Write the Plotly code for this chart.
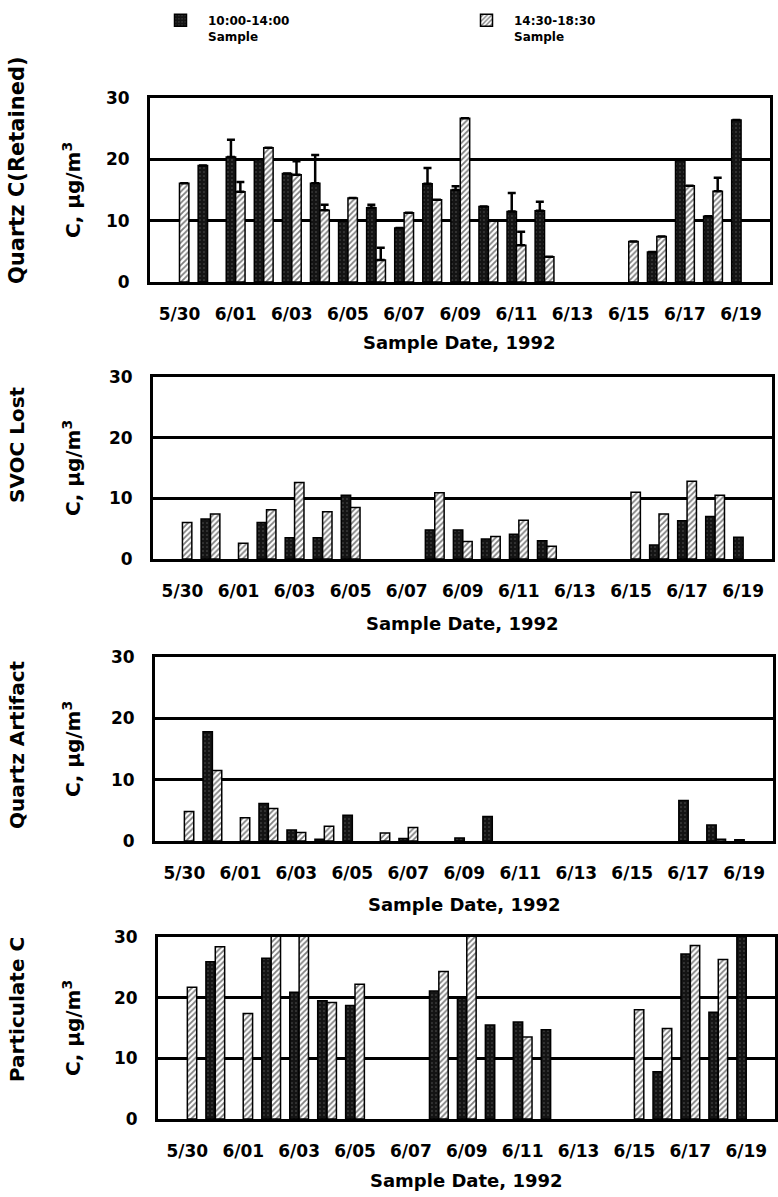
import plotly.graph_objects as go
from plotly.subplots import make_subplots

# ---------------- data ----------------
dates = ["5/30", "5/31", "6/01", "6/02", "6/03", "6/04", "6/05", "6/06", "6/07", "6/08",
         "6/09", "6/10", "6/11", "6/12", "6/13", "6/14", "6/15", "6/16", "6/17", "6/18", "6/19"]
tick_dates = ["5/30", "6/01", "6/03", "6/05", "6/07", "6/09", "6/11", "6/13", "6/15", "6/17", "6/19"]

series_names = ["10:00-14:00<br>Sample", "14:30-18:30<br>Sample"]

# Quartz C (Retained)
retained_am = [None, 19.0, 20.4, 20.0, 17.7, 16.1, 10.0, 12.1, 8.8, 16.0, 15.0, 12.3, 11.5, 11.6,
               None, None, None, 4.9, 19.9, 10.7, 26.4]
retained_am_err = [0, 0, 2.8, 0, 0, 4.6, 0, 0.5, 0, 2.6, 0.6, 0, 3.0, 1.5,
                   0, 0, 0, 0, 0, 0, 0]
retained_pm = [16.1, None, 14.7, 21.9, 17.5, 11.7, 13.7, 3.6, 11.3, 13.4, 26.7, 10.0, 6.0, 4.1,
               None, None, 6.6, 7.4, 15.7, 14.8, None]
retained_pm_err = [0, 0, 1.6, 0, 2.2, 0.9, 0, 2.0, 0, 0, 0, 0, 2.2, 0,
                   0, 0, 0, 0, 0, 2.2, 0]

# SVOC Lost
svoc_am = [None, 6.6, None, 6.0, 3.5, 3.5, 10.5, None, None, 4.8, 4.8, 3.3, 4.1, 3.0,
           None, None, None, 2.3, 6.3, 7.0, 3.6]
svoc_pm = [6.0, 7.4, 2.6, 8.1, 12.6, 7.8, 8.5, None, None, 10.9, 2.9, 3.7, 6.4, 2.1,
           None, None, 11.0, 7.4, 12.8, 10.5, None]

# Quartz Artifact
artifact_am = [None, 17.8, None, 6.1, 1.8, 0.3, 4.2, None, 0.4, None, 0.5, 4.0, None, None,
               None, None, None, None, 6.6, 2.6, 0.2]
artifact_pm = [4.8, 11.5, 3.8, 5.3, 1.4, 2.4, None, 1.3, 2.2, None, None, None, None, None,
               None, None, None, None, None, 0.3, None]

# Particulate C
partic_am = [None, 25.9, None, 26.5, 20.9, 19.5, 18.7, None, None, 21.1, 19.9, 15.5, 16.0, 14.7,
             None, None, None, 7.8, 27.2, 17.6, 30.5]
partic_pm = [21.7, 28.4, 17.4, 30.5, 30.5, 19.2, 22.2, None, None, 24.3, 30.5, None, 13.5, None,
             None, None, 18.0, 14.9, 28.6, 26.3, None]

panel_titles = ["Quartz C(Retained)", "SVOC Lost", "Quartz Artifact", "Particulate C"]
unit_label = "C, µg/m<sup>3</sup>"
x_title = "Sample Date, 1992"
y_ticks = [0, 10, 20, 30]

panels = [
    (retained_am, retained_pm, retained_am_err, retained_pm_err),
    (svoc_am, svoc_pm, None, None),
    (artifact_am, artifact_pm, None, None),
    (partic_am, partic_pm, None, None),
]

# ---------------- layout geometry (pixels) ----------------
W, H = 778, 1197
x_px = [(150, 770), (153, 772), (155, 773), (158, 775)]
y_px = [(98, 282), (377, 559), (657, 841), (937, 1119)]
title_y_px = [170, 445, 745, 1010]
title_sizes = [21, 20, 20, 20]
xtitle_y_px = [343, 623, 904, 1180]

FONT = "DejaVu Sans"

fig = make_subplots(rows=4, cols=1)

am_marker = dict(color="#141414", line=dict(color="black", width=1.5),
                 pattern=dict(shape=".", fgcolor="#9a9a9a", size=4, solidity=0.12))
pm_marker = dict(color="white", line=dict(color="black", width=1.5),
                 pattern=dict(shape="/", fgcolor="black", bgcolor="white", size=4, solidity=0.45))


def err(vals):
    if vals is None:
        return None
    return dict(type="data", array=vals, arrayminus=[0] * len(vals), symmetric=False,
                color="black", thickness=2.5, width=4)


for i, (am, pm, am_e, pm_e) in enumerate(panels):
    row = i + 1
    fig.add_trace(go.Bar(x=dates, y=am, name=series_names[0], marker=am_marker,
                         error_y=err(am_e), legend="legend", legendgroup="am",
                         showlegend=(i == 0)),
                  row=row, col=1)
    fig.add_trace(go.Bar(x=dates, y=pm, name=series_names[1], marker=pm_marker,
                         error_y=err(pm_e), legend="legend2", legendgroup="pm",
                         showlegend=(i == 0)),
                  row=row, col=1)

annotations = []
for i in range(4):
    xa = "xaxis" if i == 0 else f"xaxis{i + 1}"
    ya = "yaxis" if i == 0 else f"yaxis{i + 1}"
    x0, x1 = x_px[i]
    yt, yb = y_px[i]
    fig.layout[xa].update(
        domain=[x0 / W, x1 / W],
        type="category", categoryorder="array", categoryarray=dates,
        range=[-1.05, 21.03],
        tickmode="array", tickvals=tick_dates, ticktext=tick_dates,
        showgrid=False, zeroline=False,
        showline=True, linecolor="black", linewidth=3, mirror=True,
        ticks="", ticklabelstandoff=15,
        tickfont=dict(family=FONT, size=17, color="black", weight="bold"),
    )
    fig.layout[ya].update(
        domain=[1 - yb / H, 1 - yt / H],
        range=[0, 30], tickmode="array", tickvals=y_ticks,
        showgrid=True, gridcolor="black", gridwidth=3,
        zeroline=False,
        showline=True, linecolor="black", linewidth=3, mirror=True,
        ticks="", ticklabelstandoff=14,
        tickfont=dict(family=FONT, size=17, color="black", weight="bold"),
    )
    annotations.append(dict(
        text=panel_titles[i], xref="paper", yref="paper",
        x=17 / W, y=1 - title_y_px[i] / H, xanchor="center", yanchor="middle",
        textangle=-90, showarrow=False,
        font=dict(family=FONT, size=title_sizes[i], color="black", weight="bold")))
    annotations.append(dict(
        text=unit_label, xref="paper", yref="paper",
        x=72 / W, y=1 - ((yt + yb) / 2) / H, xanchor="center", yanchor="middle",
        textangle=-90, showarrow=False,
        font=dict(family=FONT, size=20, color="black", weight="bold")))
    annotations.append(dict(
        text=x_title, xref="paper", yref="paper",
        x=((x0 + x1) / 2) / W, y=1 - xtitle_y_px[i] / H, xanchor="center", yanchor="middle",
        showarrow=False,
        font=dict(family=FONT, size=18, color="black", weight="bold")))

legend_common = dict(
    orientation="h", yanchor="top", xanchor="left", valign="top",
    font=dict(family=FONT, size=12, color="black", weight="bold"),
    bgcolor="rgba(0,0,0,0)", itemwidth=45,
)

fig.update_layout(
    width=W, height=H,
    margin=dict(l=0, r=0, t=0, b=0, autoexpand=False),
    paper_bgcolor="white", plot_bgcolor="white",
    barmode="group", bargap=0.33, bargroupgap=0.0,
    annotations=annotations,
    showlegend=True,
    legend=dict(x=153 / W, y=1 - 6 / H, **legend_common),
    legend2=dict(x=459 / W, y=1 - 6 / H, **legend_common),
)

fig.write_html("out.html")
